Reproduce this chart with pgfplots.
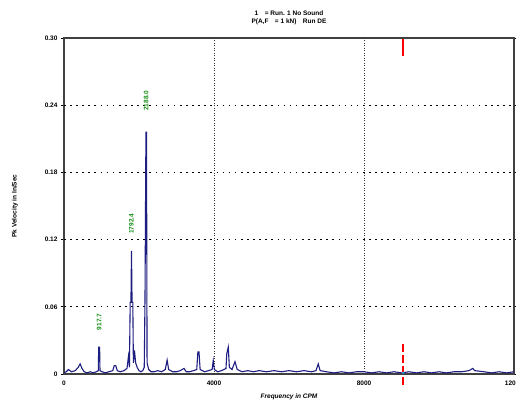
\documentclass[border=0pt]{standalone}
\usepackage{fontspec}
\setmainfont{Liberation Sans}
\usepackage{pgfplots}
\pgfplotsset{compat=1.18}
\definecolor{spec}{RGB}{30,30,130}
\definecolor{pkgreen}{RGB}{20,140,20}
\begin{document}
\begin{tikzpicture}[x=1pt,y=1pt]
\useasboundingbox (-64,-38) rectangle (452,374);
\begin{axis}[
  scale only axis,
  width=450pt, height=336pt,
  at={(0,0)}, anchor=south west,
  xmin=0, xmax=12000, ymin=0, ymax=0.30,
  scaled x ticks=false, scaled y ticks=false,
  xtick={0,4000,8000,12000},
  xticklabels={0,4000,8000,12000},
  ytick={0,0.06,0.12,0.18,0.24,0.30},
  yticklabels={0,0.06,0.12,0.18,0.24,0.30},
  tick align=outside,
  xtick style={draw=none},
  ytick style={black, line width=0.8pt},
  major tick length=3pt,
  tick label style={font=\fontsize{6.5}{7}\selectfont\bfseries},
  axis line style={line width=1.6pt, black!75},
  title={\fontsize{6.5}{8}\selectfont\bfseries\begin{tabular}{c}1\quad = Run. 1 No Sound\\P(A,F\quad = 1 kN)\quad Run DE\end{tabular}},
  title style={yshift=3pt},
  xlabel={\itshape\bfseries Frequency in CPM},
  ylabel={\bfseries Pk Velocity in In/Sec},
  xlabel style={font=\fontsize{6.5}{7}\selectfont, yshift=-2pt},
  ylabel style={font=\fontsize{6.5}{7}\selectfont, yshift=20pt},
  clip=false,
]
% horizontal grid
\foreach \yy in {0.06,0.12,0.18,0.24} {
  \edef\tmp{\noexpand\draw[black, line width=1.3pt, dash pattern=on 1.6pt off 4.5pt] (axis cs:0,\yy) -- (axis cs:12000,\yy);}
  \tmp
}
% vertical grid
\foreach \xx in {4000,8000} {
  \edef\tmp{\noexpand\draw[black!80, line width=0.9pt, dash pattern=on 1pt off 1.5pt] (axis cs:\xx,0) -- (axis cs:\xx,0.30);}
  \tmp
}
\addplot[spec, line width=1.1pt, mark=none] coordinates {
(0,0.001)(60,0.002)(120,0.004)(200,0.002)(300,0.003)(380,0.006)(430,0.009)(480,0.005)(540,0.002)(620,0.001)(700,0.002)(780,0.001)(860,0.002)(915,0.003)(925,0.024)(950,0.024)(960,0.003)(1020,0.002)(1100,0.001)(1200,0.002)(1300,0.003)(1340,0.0075)(1380,0.0075)(1420,0.003)(1500,0.002)(1600,0.003)(1680,0.005)(1720,0.016)(1745,0.006)(1765,0.064)(1785,0.064)(1800,0.11)(1815,0.064)(1835,0.064)(1850,0.01)(1880,0.021)(1910,0.01)(1950,0.006)(2000,0.003)(2050,0.002)(2100,0.003)(2140,0.006)(2160,0.067)(2185,0.216)(2200,0.216)(2215,0.01)(2260,0.004)(2320,0.002)(2400,0.002)(2500,0.003)(2600,0.002)(2700,0.004)(2750,0.0125)(2790,0.004)(2900,0.002)(3000,0.002)(3100,0.003)(3200,0.005)(3260,0.002)(3350,0.002)(3450,0.003)(3540,0.004)(3570,0.0196)(3600,0.0196)(3630,0.004)(3750,0.002)(3850,0.003)(3950,0.004)(3980,0.012)(4010,0.004)(4100,0.002)(4200,0.003)(4320,0.005)(4340,0.018)(4380,0.024)(4410,0.006)(4480,0.004)(4560,0.011)(4620,0.004)(4750,0.002)(4900,0.003)(5050,0.002)(5200,0.003)(5400,0.002)(5600,0.003)(5800,0.002)(6000,0.003)(6200,0.002)(6400,0.003)(6600,0.002)(6720,0.003)(6780,0.009)(6830,0.003)(7000,0.002)(7200,0.001)(7400,0.002)(7600,0.001)(7800,0.002)(8000,0.002)(8200,0.001)(8400,0.002)(8600,0.001)(8800,0.002)(9000,0.001)(9200,0.002)(9400,0.001)(9600,0.002)(9800,0.001)(10000,0.002)(10200,0.001)(10400,0.002)(10600,0.002)(10800,0.003)(10900,0.005)(10950,0.003)(11200,0.002)(11400,0.001)(11600,0.002)(11800,0.001)(12000,0.002)
};
% marker at 9048 CPM
\draw[color=red, line width=2pt] (axis cs:9048,0.284) -- (axis cs:9048,0.299);
\draw[color=red, line width=2pt, dash pattern=on 8pt off 3pt] (axis cs:9048,0.027) -- (axis cs:9048,-0.011);
\addplot[color=cyan, only marks, mark=*, mark size=1pt] coordinates {(9048,0.001)};
% peak labels
\node[pkgreen, rotate=90, anchor=west, font=\fontsize{6.5}{7}\selectfont\bfseries] at (axis cs:937,0.036) {917.7};
\node[pkgreen, rotate=90, anchor=west, font=\fontsize{6.5}{7}\selectfont\bfseries] at (axis cs:1800,0.122) {1792.4};
\node[pkgreen, rotate=90, anchor=west, font=\fontsize{6.5}{7}\selectfont\bfseries] at (axis cs:2192,0.232) {2188.0};
\end{axis}
\end{tikzpicture}
\end{document}
